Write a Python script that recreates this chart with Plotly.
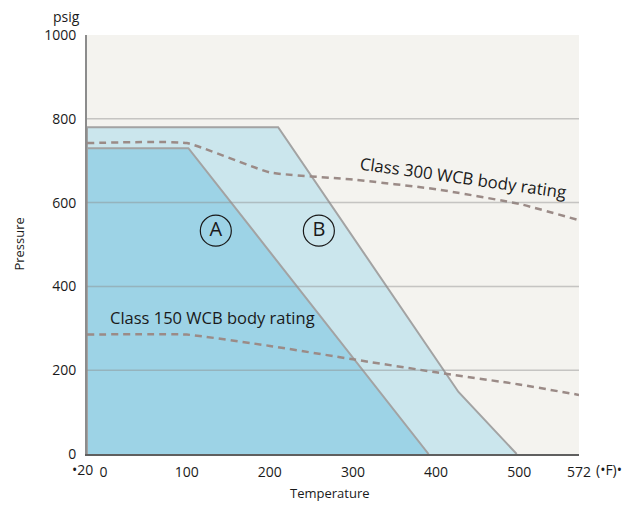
import plotly.graph_objects as go

# pressure/temperature envelopes (deg F, psig)
temp_b = [-20, -20, 210, 427, 497]
press_b = [0, 780, 780, 148, 0]
temp_a = [-20, -20, 102, 391]
press_a = [0, 730, 730, 0]

temp_class = [-20, 100, 200, 300, 400, 500, 572]
class_300 = [742, 742, 672, 655, 632, 597, 558]
class_150 = [285, 285, 258, 226, 195, 166, 141]

x_ticks = [0, 100, 200, 300, 400, 500, 572]
x_ticktext = ["0", "100", "200", "300", "400", "500", "572"]
y_ticks = [0, 200, 400, 600, 800, 1000]
grid_levels = [200, 400, 600, 800]

region_labels = ["A", "B"]
region_temp = [135, 259]
region_press = [533, 533]

FONT = "Open Sans"
TEXT = "#1a1a1a"
EDGE = "#a3a3a3"
DASH = "#9b8b87"

fig = go.Figure()
fig.add_scatter(x=temp_b, y=press_b, fill="toself", fillcolor="#cbe6ed", mode="lines",
                line=dict(color=EDGE, width=2), hoverinfo="skip")
fig.add_scatter(x=temp_a, y=press_a, fill="toself", fillcolor="#9dd3e6", mode="lines",
                line=dict(color=EDGE, width=2), hoverinfo="skip")
fig.add_scatter(x=temp_class, y=class_300, mode="lines",
                line=dict(color=DASH, width=2.5, dash="7px,5px", shape="spline", smoothing=0.4))
fig.add_scatter(x=temp_class, y=class_150, mode="lines",
                line=dict(color=DASH, width=2.5, dash="7px,5px", shape="spline", smoothing=0.4))
fig.add_scatter(x=region_temp, y=region_press, mode="markers+text", text=region_labels,
                textposition="middle center", textfont=dict(family=FONT, size=20, color=TEXT),
                marker=dict(symbol="circle-open", size=31, color=TEXT, line=dict(width=1.2)))

for level in grid_levels:
    fig.add_hline(y=level, line=dict(color="rgba(140,140,140,0.45)", width=1.5), layer="above")

fig.update_layout(
    width=615, height=513, showlegend=False,
    paper_bgcolor="white", plot_bgcolor="#f4f3ef",
    margin=dict(l=79, r=44, t=27, b=67),
    font=dict(family=FONT, size=14, color=TEXT),
    annotations=[
        dict(text="psig", x=-0.012, y=1.044, xref="paper", yref="paper", xanchor="right",
             yanchor="middle", showarrow=False, font=dict(size=14), borderpad=0),
        dict(text="Pressure", x=-0.14, y=0.5, xref="paper", yref="paper", textangle=-90,
             xanchor="center", yanchor="middle", showarrow=False, font=dict(size=13)),
        dict(text="Temperature", x=0.494, y=-0.093, xref="paper", yref="paper",
             xanchor="center", yanchor="middle", showarrow=False, font=dict(size=13)),
        dict(text="•20", x=-20, xshift=-5, y=-0.036, yref="paper", xanchor="center",
             yanchor="middle", showarrow=False, font=dict(size=14)),
        dict(text="(•F)•", x=1.03, y=-0.036, xref="paper", yref="paper", xanchor="left",
             yanchor="middle", showarrow=False, font=dict(size=14)),
        dict(text="Class 300 WCB body rating", x=433, y=659, textangle=8,
             showarrow=False, font=dict(size=16.8)),
        dict(text="Class 150 WCB body rating", x=131, y=326,
             showarrow=False, font=dict(size=16.5)),
    ],
)
fig.update_xaxes(range=[-20, 572], tickvals=x_ticks, ticktext=x_ticktext, showgrid=False,
                 zeroline=False, showline=True, linecolor="#5f5f5f", linewidth=2,
                 ticks="", tickangle=0, ticklabelstandoff=4, automargin=False)
fig.update_yaxes(range=[0, 1000], tickvals=y_ticks, showgrid=False, zeroline=False,
                 showline=True, linecolor="#8c8c8c", linewidth=2, ticks="",
                 ticklabelstandoff=6, automargin=False)

fig.write_html("out.html")
